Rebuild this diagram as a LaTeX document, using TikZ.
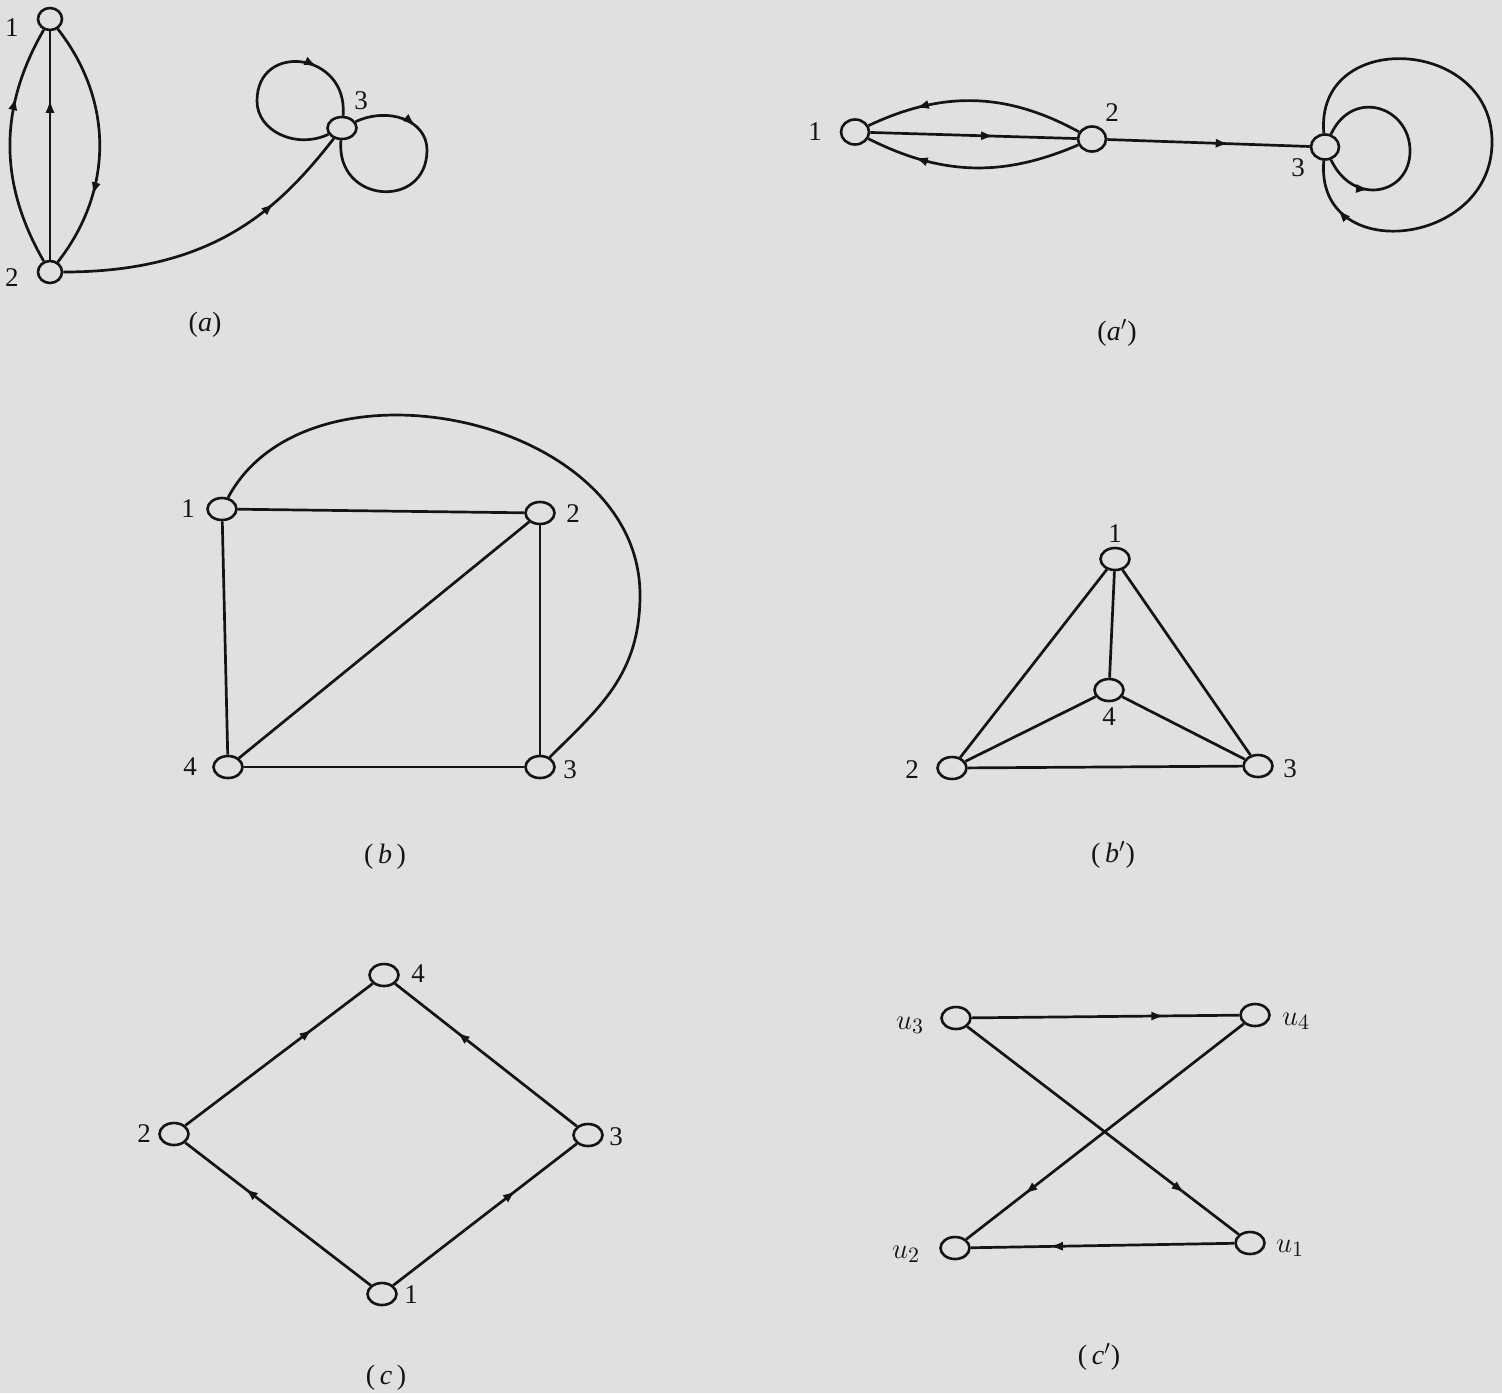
\documentclass[tikz,border=0pt]{standalone}
\usepackage{fontspec}
\setmainfont{Liberation Serif}
\usetikzlibrary{decorations.markings,arrows.meta,shapes.geometric}
\definecolor{bg}{RGB}{224,224,224}
\definecolor{ink}{RGB}{20,20,20}
\begin{document}
\begin{tikzpicture}[x=0.5pt,y=0.5pt,
  vtx/.style={draw=ink, ellipse, fill=bg, line width=1.3pt, minimum width=14.5pt, minimum height=11pt, inner sep=0pt},
  vtxa/.style={vtx, minimum width=12pt, minimum height=11pt},
  vtxb/.style={vtx, minimum width=14pt, minimum height=12.5pt},
  lbl/.style={font=\fontsize{13.5}{15}\selectfont, inner sep=0pt, text=ink},
  ulbl/.style={font=\fontsize{15}{17}\selectfont, inner sep=0pt, text=ink},
  captxt/.style={font=\fontsize{14}{16}\selectfont, inner sep=0pt, text=ink},
  conn/.style={draw=ink, line width=1.35pt},
  midarrow/.style={postaction={decorate}, decoration={markings, mark=at position #1 with {\arrow[ink]{Latex[length=6.5pt,width=4.6pt]}}}},
]
\fill[bg] (0,-1393) rectangle (1502,0);
\useasboundingbox (0,-1393) rectangle (1502,0);

% ---------- (a)
\node[vtxa] (A1) at (50,-19) {};
\node[vtxa] (A2) at (50,-272) {};
\node[vtx] (A3) at (342,-128) {};
\node[lbl] (lA1) at (12,-28) {1};
\node[lbl] (lA2) at (12,-278) {2};
\node[lbl] (lA3) at (361,-101) {3};
\coordinate (AL) at (257,-101);
\coordinate (AR) at (427,-150);
\node[captxt] (capA) at (205,-325) {(\textit{a})};
\draw[conn, midarrow=0.7] (A2) -- (A1);
\draw[conn, midarrow=0.7] (A2) to[bend left=30] (A1);
\draw[conn, midarrow=0.7] (A1) to[bend left=38] (A2);
\draw[conn, midarrow=0.72] (A2) to[out=0, in=232, out distance=75pt, in distance=45pt] (A3);
\draw[conn, midarrow=0.75] (A3) to[out=205, in=-90, out distance=18pt, in distance=15pt] (AL)
      to[out=90, in=85, out distance=30pt, in distance=32pt] (A3);
\draw[conn, midarrow=0.27] (A3) to[out=25, in=90, out distance=18pt, in distance=15pt] (AR)
      to[out=-90, in=265, out distance=30pt, in distance=32pt] (A3);

% ---------- (a')
\node[vtxb] (B1) at (855,-132) {};
\node[vtxb] (B2) at (1092,-139) {};
\node[vtxb] (B3) at (1325,-147) {};
\node[lbl] (lB1) at (815,-132) {1};
\node[lbl] (lB2) at (1112,-113) {2};
\node[lbl] (lB3) at (1298,-168) {3};
\coordinate (BF) at (1492,-142);
\coordinate (BI) at (1410,-151);
\node[captxt] (capB) at (1117,-333) {(\textit{a}$'$)};
\draw[conn, midarrow=0.6] (B1) -- (B2);
\draw[conn, midarrow=0.77] (B2) to[bend right=27] (B1);
\draw[conn, midarrow=0.77] (B2) to[bend left=25] (B1);
\draw[conn, midarrow=0.6] (B2) -- (B3);
\draw[conn, midarrow=0.22] (B3) to[out=-65, in=-90, out distance=26pt, in distance=22pt] (BI)
      to[out=90, in=65, out distance=22pt, in distance=26pt] (B3);
\draw[conn, midarrow=0.9] (B3) to[out=95, in=90, looseness=1.6] (BF)
      to[out=-90, in=-95, looseness=1.6] (B3);

% ---------- (b)
\node[vtx] (C1) at (222,-509) {};
\node[vtx] (C2) at (540,-513) {};
\node[vtx] (C3) at (540,-767) {};
\node[vtx] (C4) at (228,-767) {};
\node[lbl] (lC1) at (188,-509) {1};
\node[lbl] (lC2) at (573,-514) {2};
\node[lbl] (lC3) at (570,-770) {3};
\node[lbl] (lC4) at (190,-767) {4};
\coordinate (CR) at (640,-595);
\node[captxt] (capC) at (385,-857) {(\,\textit{b}\,)};
\draw[conn] (C1) -- (C2);
\draw[conn] (C1) -- (C4);
\draw[conn] (C2) -- (C3);
\draw[conn] (C4) -- (C3);
\draw[conn] (C4) -- (C2);
\draw[conn] (C1) to[out=62, in=90, out distance=85pt, in distance=90pt] (CR)
      to[out=-90, in=45, out distance=40pt, in distance=35pt] (C3);

% ---------- (b')
\node[vtx] (D1) at (1115,-559) {};
\node[vtx] (D4) at (1109,-690) {};
\node[vtx] (D2) at (952,-768) {};
\node[vtx] (D3) at (1258,-766) {};
\node[lbl] (lD1) at (1115,-534) {1};
\node[lbl] (lD4) at (1109,-717) {4};
\node[lbl] (lD2) at (912,-770) {2};
\node[lbl] (lD3) at (1290,-769) {3};
\node[captxt] (capD) at (1113,-855) {(\,\textit{b}$'$)};
\draw[conn] (D1) -- (D2);
\draw[conn] (D1) -- (D3);
\draw[conn] (D1) -- (D4);
\draw[conn] (D4) -- (D2);
\draw[conn] (D4) -- (D3);
\draw[conn] (D2) -- (D3);

% ---------- (c)
\node[vtx] (E4) at (384,-975) {};
\node[vtx] (E2) at (174,-1134) {};
\node[vtx] (E3) at (588,-1135) {};
\node[vtx] (E1) at (382,-1294) {};
\node[lbl] (lE4) at (418,-974) {4};
\node[lbl] (lE2) at (144,-1134) {2};
\node[lbl] (lE3) at (616,-1137) {3};
\node[lbl] (lE1) at (411,-1295) {1};
\node[captxt] (capE) at (386,-1378) {(\,\textit{c}\,)};
\draw[conn, midarrow=0.68] (E2) -- (E4);
\draw[conn, midarrow=0.66] (E3) -- (E4);
\draw[conn, midarrow=0.68] (E1) -- (E2);
\draw[conn, midarrow=0.67] (E1) -- (E3);

% ---------- (c')
\node[vtx] (F3) at (956,-1018) {};
\node[vtx] (F4) at (1255,-1015) {};
\node[vtx] (F2) at (955,-1248) {};
\node[vtx] (F1) at (1250,-1243) {};
\node[ulbl] (lF3) at (910,-1025) {$u_3$};
\node[ulbl] (lF4) at (1296,-1021) {$u_4$};
\node[ulbl] (lF2) at (906,-1254) {$u_2$};
\node[ulbl] (lF1) at (1290,-1248) {$u_1$};
\node[captxt] (capF) at (1099,-1357) {(\,\textit{c}$'$)};
\draw[conn, midarrow=0.72] (F3) -- (F4);
\draw[conn, midarrow=0.8] (F3) -- (F1);
\draw[conn, midarrow=0.79] (F4) -- (F2);
\draw[conn, midarrow=0.7] (F1) -- (F2);
\end{tikzpicture}
\end{document}
